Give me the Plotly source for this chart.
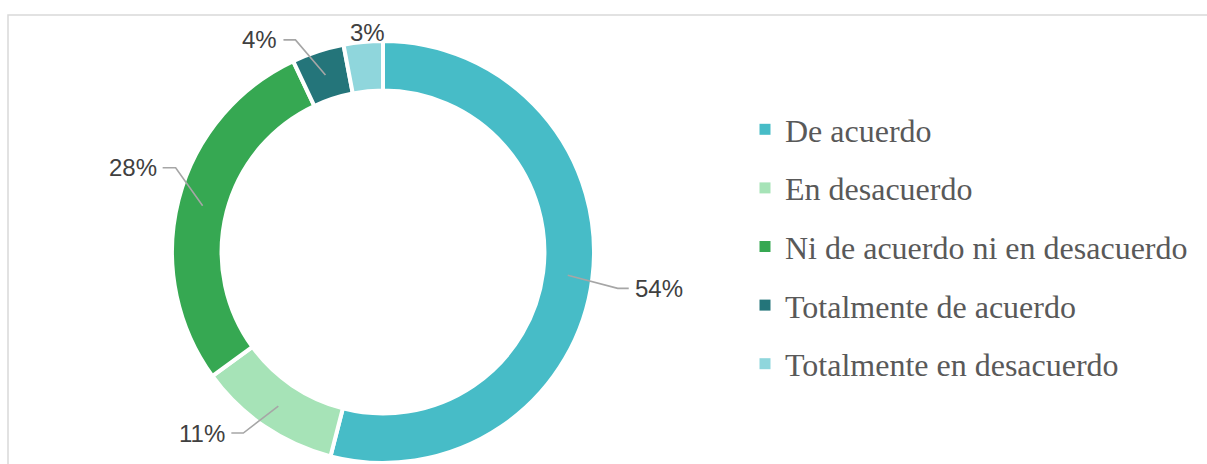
import math
import plotly.graph_objects as go

# ---------------- data ----------------
categories = [
    "De acuerdo",
    "En desacuerdo",
    "Ni de acuerdo ni en desacuerdo",
    "Totalmente de acuerdo",
    "Totalmente en desacuerdo",
]
values = [54, 11, 28, 4, 3]
colors = ["#47BCC7", "#A6E3B7", "#36A852", "#24757A", "#8FD6DC"]

# ---------------- layout / style ----------------
W, H = 1207, 464
CX, CY = 383, 252          # donut centre (px)
R_OUT = 211                # outer radius (px)
HOLE = 0.765
R_MID = R_OUT * (1 + HOLE) / 2

# data-label placement: offsets (px) from each slice's mid-ring point
label_style = [
    dict(elbow=(50, 13), end=(61, 13), anchor="left", line=True),
    dict(elbow=(-35, 27), end=(-47, 27), anchor="right", line=True),
    dict(elbow=(-27, -38), end=(-40, -38), anchor="right", line=True),
    dict(elbow=(-30, -35), end=(-42, -35), anchor="right", line=True),
    dict(elbow=(0, -34), end=(2, -34), anchor="center", line=False),
]


def px(x):
    return x / W


def py(y):
    return 1 - y / H


fig = go.Figure()

fig.add_trace(
    go.Pie(
        labels=categories,
        values=values,
        hole=HOLE,
        sort=False,
        direction="clockwise",
        rotation=0,
        marker=dict(colors=colors, line=dict(color="white", width=4)),
        textinfo="none",
        hoverinfo="label+percent",
        showlegend=False,
        domain=dict(
            x=[px(CX - R_OUT), px(CX + R_OUT)],
            y=[py(CY + R_OUT), py(CY - R_OUT)],
        ),
    )
)

# legend entries (one group each so spacing can be controlled)
for name, col in zip(categories, colors):
    fig.add_trace(
        go.Scatter(
            x=[None], y=[None], mode="markers", name=name,
            marker=dict(symbol="square", size=11, color=col),
            legendgroup=name, showlegend=True, hoverinfo="skip",
        )
    )

# data labels with leader lines, computed from the slice angles
total = sum(values)
cum = 0
shapes = []
annotations = []
for v, st in zip(values, label_style):
    mid = (cum + v / 2) / total * 2 * math.pi   # clockwise from 12 o'clock
    cum += v
    sx = CX + R_MID * math.sin(mid)
    sy = CY - R_MID * math.cos(mid)
    ex, ey = sx + st["elbow"][0], sy + st["elbow"][1]
    tx, ty = sx + st["end"][0], sy + st["end"][1]
    if st["line"]:
        path = f"M {px(sx)},{py(sy)} L {px(ex)},{py(ey)} L {px(tx)},{py(ty)}"
        shapes.append(dict(type="path", xref="paper", yref="paper", path=path,
                           line=dict(color="#A6A6A6", width=1.6)))
    pct = f"{round(v / total * 100)}%"
    gap = 4 if st["anchor"] == "left" else (-4 if st["anchor"] == "right" else 0)
    annotations.append(dict(
        x=px(tx + gap), y=py(ty), xref="paper", yref="paper",
        text=pct, showarrow=False, xanchor=st["anchor"], yanchor="middle",
        font=dict(family="Liberation Sans, Arial, sans-serif", size=24, color="#404040"),
    ))

# chart-area border
shapes.append(dict(type="rect", xref="paper", yref="paper",
                   x0=px(8), y0=py(490), x1=px(1215), y1=py(15),
                   line=dict(color="#D9D9D9", width=1.5), fillcolor="rgba(0,0,0,0)",
                   layer="below"))

fig.update_layout(
    width=W, height=H,
    margin=dict(l=0, r=0, t=0, b=0),
    paper_bgcolor="white", plot_bgcolor="white",
    xaxis=dict(visible=False), yaxis=dict(visible=False),
    shapes=shapes, annotations=annotations,
    showlegend=True,
    legend=dict(
        x=px(745), y=py(102), xanchor="left", yanchor="top",
        font=dict(family="Liberation Serif, Times New Roman, serif", size=32, color="#595959"),
        tracegroupgap=14, traceorder="grouped",
        bgcolor="rgba(0,0,0,0)",
    ),
)

fig.write_html(
    "out.html",
    config={"displayModeBar": False},
    post_script="document.body.style.margin='0px';document.body.style.overflow='hidden';",
)
